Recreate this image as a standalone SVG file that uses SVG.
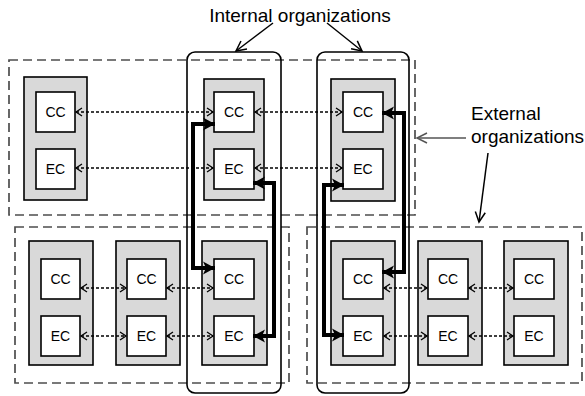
<svg xmlns="http://www.w3.org/2000/svg" width="585" height="396" viewBox="0 0 585 396">
<style>
.dash{fill:none;stroke:#4d4d4d;stroke-width:1.7;stroke-dasharray:9 5}
.org{fill:#d9d9d9;stroke:#000;stroke-width:1.6}
.box{fill:#fff;stroke:#000;stroke-width:1.6}
.lbl{font-family:"Liberation Sans",Arial,sans-serif;font-size:14px;fill:#000;text-anchor:middle}
.big{font-family:"Liberation Sans",Arial,sans-serif;font-size:19px;fill:#000}
.intl{fill:none;stroke:#000;stroke-width:1.6}
.dot{fill:none;stroke:#000;stroke-width:1.6;stroke-dasharray:3 2;marker-start:url(#chev);marker-end:url(#chev)}
.thick{fill:none;stroke:#000;stroke-width:4;marker-start:url(#head);marker-end:url(#head)}
.pt{fill:none;stroke:#000;stroke-width:1.5;marker-end:url(#open)}
.ptg{fill:none;stroke:#555;stroke-width:1.5;marker-end:url(#openg)}
</style>
<defs>
<marker id="chev" markerUnits="userSpaceOnUse" markerWidth="8" markerHeight="9" refX="6.5" refY="4" orient="auto-start-reverse" overflow="visible">
<path d="M0.5,0 L6.5,4 L0.5,8" fill="none" stroke="#000" stroke-width="1.3"/>
</marker>
<marker id="head" markerUnits="userSpaceOnUse" markerWidth="13" markerHeight="13" refX="12" refY="6.5" orient="auto-start-reverse" overflow="visible">
<path d="M0,0 L12,6.5 L0,13 L3,6.5 Z" fill="#000"/>
</marker>
<marker id="open" markerUnits="userSpaceOnUse" markerWidth="12" markerHeight="12" refX="10" refY="5" orient="auto" overflow="visible">
<path d="M0,0 L10,5 L0,10" fill="none" stroke="#000" stroke-width="1.5"/>
</marker>
<marker id="openg" markerUnits="userSpaceOnUse" markerWidth="12" markerHeight="12" refX="10" refY="5" orient="auto" overflow="visible">
<path d="M0,0 L10,5 L0,10" fill="none" stroke="#555" stroke-width="1.5"/>
</marker>
</defs>

<g id="external-groups">
<rect id="ext-top" class="dash" x="9" y="60" width="406" height="155"/>
<rect id="ext-bottom-left" class="dash" x="15" y="227" width="274" height="156"/>
<rect id="ext-bottom-right" class="dash" x="307" y="227" width="275" height="156"/>
</g>

<g id="org-top-left">
<rect class="org" x="24" y="77" width="63" height="123"/>
<rect class="box" x="36" y="92" width="39" height="40"/><text class="lbl" x="55.5" y="117">CC</text>
<rect class="box" x="36" y="149" width="39" height="40"/><text class="lbl" x="55.5" y="174">EC</text>
</g>
<g id="org-top-mid">
<rect class="org" x="204" y="79" width="60" height="121"/>
<rect class="box" x="214" y="92" width="40" height="40"/><text class="lbl" x="234" y="117">CC</text>
<rect class="box" x="214" y="149" width="40" height="40"/><text class="lbl" x="234" y="174">EC</text>
</g>
<g id="org-top-right">
<rect class="org" x="331" y="79" width="64" height="122"/>
<rect class="box" x="343" y="92" width="40" height="40"/><text class="lbl" x="363" y="117">CC</text>
<rect class="box" x="343" y="149" width="40" height="40"/><text class="lbl" x="363" y="174">EC</text>
</g>

<g id="org-bl-1">
<rect class="org" x="29" y="241" width="64" height="124"/>
<rect class="box" x="41" y="259" width="39" height="40"/><text class="lbl" x="60.5" y="284">CC</text>
<rect class="box" x="41" y="316" width="39" height="40"/><text class="lbl" x="60.5" y="341">EC</text>
</g>
<g id="org-bl-2">
<rect class="org" x="116" y="241" width="64" height="124"/>
<rect class="box" x="127" y="259" width="39" height="40"/><text class="lbl" x="146.5" y="284">CC</text>
<rect class="box" x="127" y="316" width="39" height="40"/><text class="lbl" x="146.5" y="341">EC</text>
</g>
<g id="org-bl-3">
<rect class="org" x="202" y="241" width="65" height="124"/>
<rect class="box" x="214" y="259" width="40" height="40"/><text class="lbl" x="234" y="284">CC</text>
<rect class="box" x="214" y="316" width="40" height="40"/><text class="lbl" x="234" y="341">EC</text>
</g>

<g id="org-br-1">
<rect class="org" x="331" y="241" width="64" height="124"/>
<rect class="box" x="343" y="259" width="40" height="40"/><text class="lbl" x="363" y="284">CC</text>
<rect class="box" x="343" y="316" width="40" height="40"/><text class="lbl" x="363" y="341">EC</text>
</g>
<g id="org-br-2">
<rect class="org" x="418" y="241" width="64" height="124"/>
<rect class="box" x="428" y="259" width="40" height="40"/><text class="lbl" x="448" y="284">CC</text>
<rect class="box" x="428" y="316" width="40" height="40"/><text class="lbl" x="448" y="341">EC</text>
</g>
<g id="org-br-3">
<rect class="org" x="504" y="241" width="64" height="124"/>
<rect class="box" x="514" y="259" width="40" height="40"/><text class="lbl" x="534" y="284">CC</text>
<rect class="box" x="514" y="316" width="40" height="40"/><text class="lbl" x="534" y="341">EC</text>
</g>

<g id="internal-groups">
<rect id="int-1" class="intl" x="187" y="52" width="94" height="341" rx="8"/>
<rect id="int-2" class="intl" x="317" y="52" width="92" height="341" rx="8"/>
</g>

<g id="connectors">
<line class="dot" x1="76" y1="112" x2="213" y2="112"/>
<line class="dot" x1="255" y1="112" x2="342" y2="112"/>
<line class="dot" x1="76" y1="168" x2="213" y2="168"/>
<line class="dot" x1="255" y1="168" x2="342" y2="168"/>
<line class="dot" x1="81" y1="288" x2="126" y2="288"/>
<line class="dot" x1="167" y1="288" x2="213" y2="288"/>
<line class="dot" x1="81" y1="336" x2="126" y2="336"/>
<line class="dot" x1="167" y1="336" x2="213" y2="336"/>
<line class="dot" x1="384" y1="288" x2="427" y2="288"/>
<line class="dot" x1="469" y1="288" x2="513" y2="288"/>
<line class="dot" x1="384" y1="336" x2="427" y2="336"/>
<line class="dot" x1="469" y1="336" x2="513" y2="336"/>
<polyline class="thick" points="215,124 193,124 193,268 215,268"/>
<polyline class="thick" points="253,183 274,183 274,336 253,336"/>
<polyline class="thick" points="382,113 404,113 404,272 382,272"/>
<polyline class="thick" points="344,185 324,185 324,335 344,335"/>
<line class="pt" x1="273" y1="23" x2="236" y2="51"/>
<line class="pt" x1="327" y1="23" x2="362" y2="51"/>
<line class="ptg" x1="466" y1="138" x2="417" y2="138"/>
<line class="pt" x1="488" y1="153" x2="479" y2="222"/>
</g>

<g id="labels">
<text class="big" x="300" y="22" text-anchor="middle">Internal organizations</text>
<text class="big" x="471" y="120">External</text>
<text class="big" x="471" y="143">organizations</text>
</g>
</svg>
